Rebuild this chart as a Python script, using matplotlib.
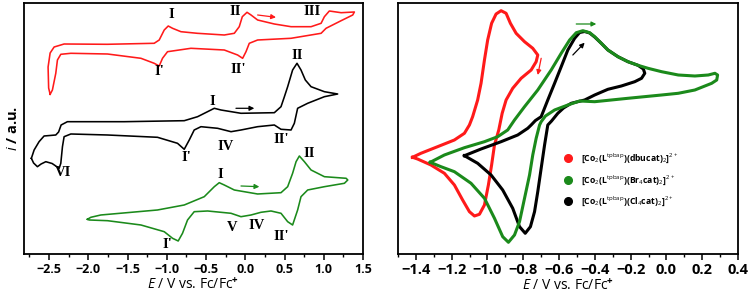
import matplotlib
matplotlib.use("Agg")
import matplotlib.pyplot as plt
from matplotlib.lines import Line2D
from matplotlib.ticker import MultipleLocator

plt.rcParams['mathtext.fontset'] = 'custom'
plt.rcParams['mathtext.rm'] = 'Open Sans'
plt.rcParams['mathtext.it'] = 'Open Sans:italic'
plt.rcParams['mathtext.bf'] = 'Open Sans:bold'

RED = "#ff1a1a"
GREEN = "#1b8a1b"
BLACK = "#000000"

# ---------------- Left panel data (E in V, i in a.u.) ----------------
red_E = [-2.487, -2.506, -2.513, -2.487, -2.436, -2.309, -1.760, -1.161, -1.097, -1.033,
         -0.982, -0.927, -0.820, -0.612, -0.268, -0.140, -0.077, -0.038, 0.022, 0.073,
         0.157, 0.370, 0.583, 0.838, 0.966, 1.008, 1.071, 1.221, 1.390,
         1.369, 1.221, 1.029, 0.966, 0.583, 0.157, 0.051, 0.009, -0.034, -0.098,
         -0.268, -0.693, -0.991, -1.055, -1.097, -1.161, -1.330, -1.756, -2.223, -2.351,
         -2.394, -2.415, -2.458, -2.487]
red_i = [160.2, 166.5, 187.5, 201.5, 207.5, 210.5, 210.2, 211.2, 214.5, 224.5,
         228.5, 226.2, 222.8, 221.2, 219.5, 221.2, 227.8, 237.8, 242.2, 239.5,
         234.5, 230.5, 227.8, 227.8, 231.2, 237.8, 243.5, 241.8, 242.5,
         239.5, 233.8, 226.2, 221.2, 216.2, 214.5, 211.2, 202.8, 196.2, 199.5,
         204.5, 206.2, 202.8, 196.2, 188.5, 191.2, 196.2, 200.5, 201.2, 200.2,
         194.5, 181.2, 164.5, 160.2]

black_E = [-2.726, -2.691, -2.628, -2.564, -2.415, -2.379, -2.347, -2.267, -1.543, -0.778,
           -0.608, -0.481, -0.395, -0.310, -0.055, 0.370, 0.455, 0.497, 0.540, 0.603,
           0.659, 0.710, 0.765, 0.838, 1.008, 1.177,
           1.008, 0.795, 0.667, 0.625, 0.583, 0.455, 0.370, 0.157, -0.055, -0.182,
           -0.353, -0.565, -0.651, -0.714, -0.778, -0.864, -1.119, -1.756, -2.223, -2.309,
           -2.330, -2.351, -2.372, -2.462, -2.542, -2.602, -2.649, -2.698, -2.726]
black_i = [96.2, 104.5, 112.8, 118.5, 119.5, 122.5, 129.5, 132.8, 132.8, 133.8,
           137.8, 142.8, 146.2, 144.5, 141.2, 141.8, 147.8, 157.5, 167.8, 184.5,
           191.2, 184.5, 174.5, 167.8, 162.8, 160.5,
           157.8, 151.2, 146.2, 131.2, 124.5, 125.2, 129.5, 127.8, 124.5, 122.8,
           126.2, 127.8, 124.5, 114.5, 105.2, 111.2, 117.2, 119.5, 120.5, 117.8,
           107.8, 91.2, 86.2, 91.0, 92.8, 90.5, 87.8, 91.5, 96.2]

green_E = [-2.012, -1.968, -1.841, -1.119, -0.778, -0.523, -0.395, -0.332, -0.268, -0.140,
           0.157, 0.455, 0.540, 0.603, 0.647, 0.689, 0.753, 0.838, 1.008, 1.285, 1.306,
           1.263, 1.008, 0.795, 0.710, 0.667, 0.603, 0.540, 0.455, 0.328, 0.200,
           0.073, -0.055, -0.182, -0.480, -0.651, -0.736, -0.800, -0.855, -0.927, -1.033,
           -1.330, -1.756, -1.990, -2.012]
green_i = [35.2, 37.2, 39.5, 44.5, 49.5, 57.8, 67.8, 71.8, 69.5, 64.5,
           60.5, 61.8, 67.8, 81.2, 92.8, 98.5, 92.8, 84.5, 77.8, 76.2, 74.5,
           71.2, 67.8, 64.5, 57.8, 44.5, 29.5, 32.8, 41.2, 43.5, 42.2,
           39.5, 37.8, 41.2, 43.5, 42.8, 34.5, 21.2, 13.5, 16.2, 22.8,
           29.5, 33.8, 34.5, 35.2]

left_labels = [("I", -0.948, 239.5), ("II", -0.128, 242.8), ("III", 0.846, 242.8),
               ("I'", -1.097, 182.8), ("II'", -0.085, 184.5),
               ("II", 0.659, 198.5), ("I", -0.425, 152.8), ("IV", -0.246, 107.8),
               ("II'", 0.455, 114.5), ("I'", -0.756, 97.2), ("VI", -2.318, 81.8),
               ("I", -0.323, 79.5), ("II", 0.816, 101.2), ("V", -0.162, 27.2),
               ("IV", 0.144, 28.5), ("II'", 0.463, 17.8), ("I'", -0.991, 9.5)]

left_arrows = [(RED, 0.157, 239.5, 0.391, 237.2),
               (BLACK, -0.119, 146.2, 0.115, 146.2),
               (GREEN, -0.055, 68.5, 0.179, 67.8)]

# ---------------- Right panel data ----------------
r_red_E = [-1.419, -1.372, -1.279, -1.185, -1.129, -1.101, -1.083, -1.055, -1.036, -1.017,
           -0.999, -0.977, -0.952, -0.924, -0.896, -0.872, -0.840, -0.793, -0.747, -0.719,
           -0.728, -0.756, -0.812, -0.859, -0.896, -0.918, -0.937, -0.961, -0.977, -0.995,
           -1.017, -1.045, -1.073, -1.101, -1.139, -1.185, -1.241, -1.316, -1.391, -1.419]
r_red_i = [97.2, 101.2, 107.8, 114.5, 121.2, 129.5, 137.8, 154.5, 171.2, 194.5,
           214.5, 231.2, 240.5, 243.8, 241.2, 231.2, 221.2, 212.8, 206.2, 199.5,
           192.8, 184.5, 176.2, 166.2, 154.5, 141.2, 124.5, 109.5, 89.5, 69.5,
           49.5, 40.2, 38.5, 42.8, 54.5, 69.5, 81.2, 89.5, 95.5, 97.2]

r_green_E = [-1.320, -1.241, -1.129, -1.017, -0.943, -0.887, -0.849, -0.793, -0.719, -0.644,
             -0.588, -0.541, -0.504, -0.467, -0.429, -0.401, -0.364, -0.327, -0.271, -0.215,
             -0.159, -0.103, -0.027, 0.066, 0.159, 0.234, 0.271, 0.286, 0.281, 0.253,
             0.159, 0.066, -0.027, -0.215, -0.401, -0.485, -0.551, -0.625, -0.676, -0.700,
             -0.709, -0.728, -0.747, -0.765, -0.793, -0.821, -0.849, -0.883, -0.915, -0.961,
             -1.017, -1.092, -1.185, -1.260, -1.320]
r_green_i = [92.2, 99.5, 106.8, 112.8, 117.8, 124.5, 134.5, 147.8, 164.5, 184.5,
             201.2, 214.5, 221.8, 223.8, 221.8, 217.8, 211.2, 204.5, 197.8, 192.8,
             189.2, 186.2, 182.8, 179.5, 178.5, 179.5, 181.2, 179.5, 174.5, 171.2,
             164.5, 161.2, 159.5, 156.2, 152.8, 153.5, 149.5, 144.5, 138.5, 132.8,
             129.5, 116.2, 99.5, 79.5, 56.2, 32.8, 19.5, 12.2, 17.8, 36.2,
             56.2, 71.2, 82.8, 87.8, 92.2]

r_black_E = [-1.129, -1.036, -0.924, -0.831, -0.775, -0.756, -0.732, -0.700, -0.663, -0.625,
             -0.588, -0.551, -0.513, -0.485, -0.457, -0.429, -0.401, -0.364, -0.327, -0.271,
             -0.215, -0.159, -0.129, -0.121, -0.139, -0.177, -0.252, -0.327, -0.401, -0.457,
             -0.532, -0.575, -0.607, -0.642, -0.663, -0.681, -0.700, -0.719, -0.737, -0.760,
             -0.789, -0.821, -0.859, -0.915, -0.980, -1.055, -1.129]
r_black_i = [98.8, 105.5, 112.8, 119.5, 126.2, 129.5, 134.0, 137.8, 154.5, 171.2,
             187.8, 204.5, 216.2, 222.0, 223.0, 221.5, 217.5, 211.2, 204.5, 197.8,
             192.8, 189.2, 185.5, 181.2, 176.2, 172.8, 168.5, 165.2, 159.5, 154.5,
             151.2, 146.5, 141.2, 133.5, 129.5, 109.5, 86.2, 62.8, 42.8, 27.8,
             21.2, 27.8, 46.2, 64.5, 79.5, 91.2, 98.8]

legend_labels = [r"[Co$_2$(L$^{\mathrm{tpbap}}$)(dbucat)$_2$]$^{2+}$",
                 r"[Co$_2$(L$^{\mathrm{tpbap}}$)(Br$_4$cat)$_2$]$^{2+}$",
                 r"[Co$_2$(L$^{\mathrm{tpbap}}$)(Cl$_4$cat)$_2$]$^{2+}$"]
legend_colors = [RED, GREEN, BLACK]

right_arrows = [(GREEN, -0.504, 230.5, -0.392, 230.5),
                (BLACK, -0.523, 199.5, -0.457, 211.8),
                (RED, -0.700, 196.2, -0.719, 179.5)]

# ---------------- Figure ----------------
fig = plt.figure(figsize=(7.5, 2.94), dpi=100)
axL = fig.add_axes([0.032, 0.1344, 0.452, 0.8554])
axR = fig.add_axes([0.5307, 0.1344, 0.4533, 0.8554])

lwL = 1.15
axL.plot(red_E, red_i, color=RED, lw=lwL, solid_joinstyle='round')
axL.plot(black_E, black_i, color=BLACK, lw=lwL, solid_joinstyle='round')
axL.plot(green_E, green_i, color=GREEN, lw=lwL, solid_joinstyle='round')
for t, x, y in left_labels:
    axL.text(x, y, t, ha='center', va='center', fontsize=10.5, fontweight='bold',
             family='Liberation Serif')
for c, x0, y0, x1, y1 in left_arrows:
    axL.annotate("", xy=(x1, y1), xytext=(x0, y0),
                 arrowprops=dict(arrowstyle='-|>', color=c, lw=0.9,
                                 mutation_scale=7, shrinkA=0, shrinkB=0))
axL.set_xlim(-2.82, 1.5)
axL.set_ylim(0, 251.5)
axL.xaxis.set_major_locator(MultipleLocator(0.5))
axL.xaxis.set_minor_locator(MultipleLocator(0.25))
axL.set_yticks([])
axL.set_ylabel(r"$i$ / a.u.", fontsize=10.5, fontweight='bold', family='Open Sans',
               labelpad=3)
axL.set_xlabel(r"$E$ / V vs. Fc/Fc$^{\mathbf{+}}$", fontsize=10, family='Open Sans',
               labelpad=1)

lwR = 2.2
axR.plot(r_red_E, r_red_i, color=RED, lw=lwR, solid_joinstyle='round')
axR.plot(r_black_E, r_black_i, color=BLACK, lw=lwR, solid_joinstyle='round')
axR.plot(r_green_E, r_green_i, color=GREEN, lw=lwR, solid_joinstyle='round')
for c, x0, y0, x1, y1 in right_arrows:
    axR.annotate("", xy=(x1, y1), xytext=(x0, y0),
                 arrowprops=dict(arrowstyle='-|>', color=c, lw=0.9,
                                 mutation_scale=7, shrinkA=0, shrinkB=0))
handles = [Line2D([], [], ls='none', marker='o', ms=5.5, color=c) for c in legend_colors]
axR.legend(handles, legend_labels, loc='center left', bbox_to_anchor=(0.487, 0.296),
           frameon=False, prop=dict(family='Open Sans', size=6.2, weight='bold'),
           labelspacing=0.9, handlelength=1.0, handletextpad=1.0, borderpad=0,
           borderaxespad=0)
axR.set_xlim(-1.5, 0.4)
axR.set_ylim(0, 251.5)
axR.xaxis.set_major_locator(MultipleLocator(0.2))
axR.xaxis.set_minor_locator(MultipleLocator(0.1))
axR.set_yticks([])
axR.set_xlabel(r"$E$ / V vs. Fc/Fc$^{\mathbf{+}}$", fontsize=10, family='Open Sans',
               labelpad=1)

for ax, fs in ((axL, 9), (axR, 10.5)):
    for s in ax.spines.values():
        s.set_linewidth(1.3)
    ax.tick_params(axis='x', which='major', direction='out', length=4, width=1.1,
                   labelsize=fs, pad=2)
    ax.tick_params(axis='x', which='minor', direction='out', length=2.5, width=1.0)
    for lab in ax.get_xticklabels():
        lab.set_fontweight('bold')
        lab.set_family('Open Sans')

fig.savefig("out.png", dpi=100)
